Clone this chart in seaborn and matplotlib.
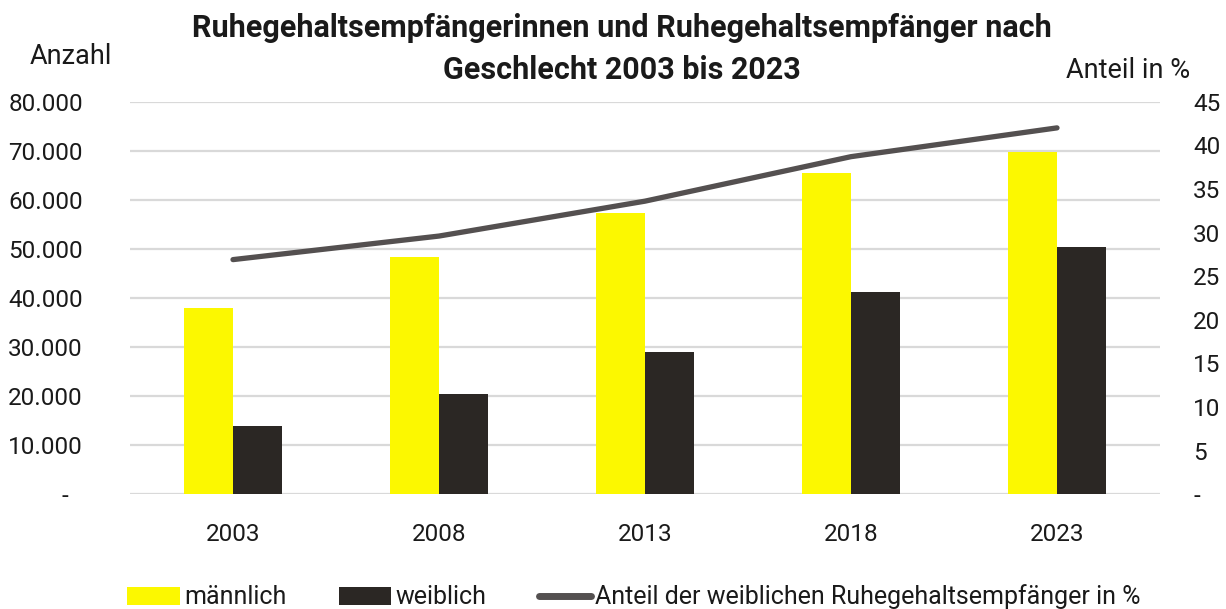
import matplotlib
matplotlib.use("Agg")
import matplotlib.pyplot as plt
import seaborn as sns
import pandas as pd
from matplotlib.ticker import FuncFormatter, MultipleLocator
from matplotlib.patches import Patch
from matplotlib.lines import Line2D

years = ["2003", "2008", "2013", "2018", "2023"]
maennlich = [38000, 48400, 57300, 65500, 69800]
weiblich = [13900, 20400, 29000, 41200, 50400]
anteil = [26.9, 29.6, 33.6, 38.7, 42.0]

series_names = ["männlich", "weiblich"]
line_name = "Anteil der weiblichen Ruhegehaltsempfänger in %"
title_lines = ["Ruhegehaltsempfängerinnen und Ruhegehaltsempfänger nach",
               "Geschlecht 2003 bis 2023"]

df = pd.DataFrame({
    "Jahr": years * 2,
    "Anzahl": maennlich + weiblich,
    "Geschlecht": [series_names[0]] * len(years) + [series_names[1]] * len(years),
})

sns.set_theme(style="white")
plt.rcParams["font.family"] = ["Roboto", "DejaVu Sans"]

YELLOW = "#FCF800"
DARK = "#2B2724"
LINE = "#545050"
GRID = "#D9D9D9"
TXT = "#1a1a1a"
TICK_FS = 17.5

fig = plt.figure(figsize=(12.26, 6.09), dpi=100)
W, H = 1226, 609
ax = fig.add_axes([130 / W, 1 - 494.3 / H, (1160 - 130) / W, (494.3 - 101.7) / H])

sns.barplot(data=df, x="Jahr", y="Anzahl", hue="Geschlecht",
            palette=[YELLOW, DARK], width=0.48, gap=0, ax=ax,
            saturation=1, legend=False, linewidth=0)

ax.set_ylim(0, 80000)
ax.yaxis.set_major_locator(MultipleLocator(10000))
ax.yaxis.set_major_formatter(FuncFormatter(
    lambda v, p: "-\u2007" if v == 0 else f"{int(v):,}".replace(",", ".")))
ax.grid(axis="y", color=GRID, linewidth=1.6)
ax.set_axisbelow(True)
for s in ax.spines.values():
    s.set_visible(False)
ax.set_xlabel("")
ax.set_ylabel("")
ax.tick_params(axis="both", length=0, labelsize=TICK_FS, colors=TXT)
ax.tick_params(axis="y", pad=34)
ax.tick_params(axis="x", pad=21)

ax2 = ax.twinx()
sns.pointplot(x=years, y=anteil, ax=ax2, color=LINE, markers="",
              linewidth=3.8)
for ln in ax2.lines:
    ln.set_solid_capstyle("round")
ax2.set_ylim(0, 45)
ax2.yaxis.set_major_locator(MultipleLocator(5))
ax2.yaxis.set_major_formatter(FuncFormatter(
    lambda v, p: "-" if v == 0 else f"{int(v)}"))
for s in ax2.spines.values():
    s.set_visible(False)
ax2.grid(False)
ax2.set_ylabel("")
ax2.set_xlabel("")
ax2.tick_params(axis="y", length=0, labelsize=TICK_FS, colors=TXT, pad=24)
ax.set_xlim(-0.5, 4.5)
ax2.set_xlim(-0.5, 4.5)

fig.text(622 / W, 1 - 28 / H, title_lines[0], ha="center", va="center",
         fontsize=22, fontweight="bold", color=TXT)
fig.text(622 / W, 1 - 70 / H, title_lines[1], ha="center", va="center",
         fontsize=22, fontweight="bold", color=TXT)
fig.text(30 / W, 1 - 57 / H, "Anzahl", ha="left", va="center",
         fontsize=19.5, color=TXT)
fig.text(1190 / W, 1 - 70 / H, "Anteil in %", ha="right", va="center",
         fontsize=19.5, color=TXT)

handles = [Patch(facecolor=YELLOW, edgecolor="none"),
           Patch(facecolor=DARK, edgecolor="none"),
           Line2D([0], [0], color=LINE, linewidth=5, solid_capstyle="round")]
fig.legend(handles, series_names + [line_name], loc="center",
           bbox_to_anchor=(634 / W, 1 - 597 / H), ncol=3, frameon=False,
           fontsize=18, handlelength=2.1, handleheight=0.75,
           handletextpad=0.16, columnspacing=2.1, labelcolor=TXT)

fig.savefig("out.png", dpi=100)
